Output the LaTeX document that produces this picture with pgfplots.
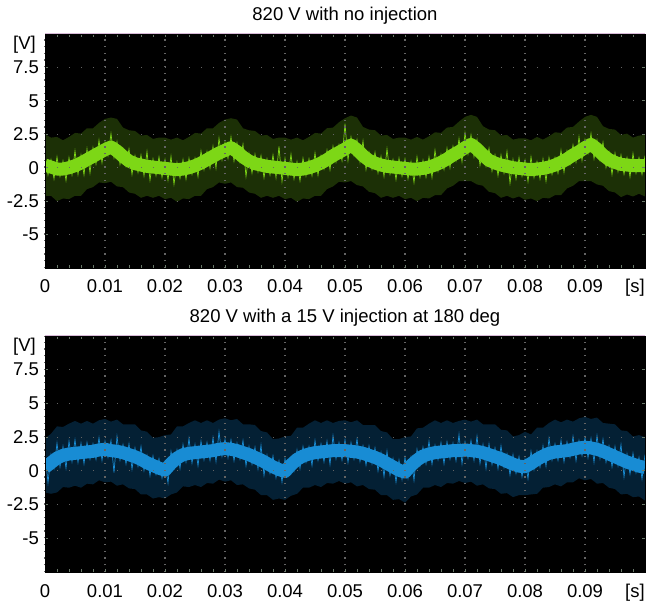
\documentclass[border=0pt]{standalone}
\usepackage{fontspec}
\setmainfont{Liberation Sans}
\usepackage{pgfplots}
\usepackage{pgfplotstable}
\pgfplotsset{compat=1.18}
\usepgfplotslibrary{fillbetween}

\definecolor{dkgreen}{RGB}{28,48,6}
\definecolor{ltgreen}{RGB}{125,215,22}
\definecolor{dkblue}{RGB}{4,32,52}
\definecolor{ltblue}{RGB}{24,140,212}
\definecolor{griddot}{RGB}{100,100,100}
\definecolor{tickc}{RGB}{105,120,105}
\definecolor{topline}{RGB}{215,185,215}
\definecolor{leftline}{RGB}{100,200,90}

% time in ms: t hi lo m  (dark envelope and centre of the trace)
\pgfplotstableread{
t hi lo m
0 2.5 -2.1 0.2
1 2.25 -2.1 0.05
2 2.3 -2.5 -0.1
3 2.05 -2.3 -0.1
4 2.3 -2.35 0.0
5 2.6 -2.1 0.15
6 2.55 -2.1 0.35
7 2.95 -1.6 0.6
8 2.95 -1.45 0.85
9 3.35 -1.1 1.1
10 3.65 -1.15 1.35
11 3.75 -1.05 1.55
12 3.65 -1.4 1.25
13 3.0 -1.45 0.85
14 2.8 -1.85 0.5
15 2.75 -1.95 0.3
16 2.4 -2.25 0.2
17 2.45 -2.1 0.1
18 2.15 -2.25 0.05
19 2.25 -2.1 0.0
20 2.25 -2.35 -0.05
21 2.1 -2.25 -0.1
22 2.25 -2.55 -0.15
23 2.05 -2.3 -0.1
24 2.3 -2.35 0.0
25 2.6 -2.1 0.15
26 2.55 -2.1 0.35
27 2.95 -1.6 0.6
28 2.95 -1.45 0.85
29 3.35 -1.1 1.1
30 3.6 -1.2 1.3
31 3.7 -1.1 1.5
32 3.6 -1.45 1.2
33 2.95 -1.5 0.8
34 2.8 -1.85 0.5
35 2.75 -1.95 0.3
36 2.4 -2.25 0.2
37 2.45 -2.1 0.1
38 2.15 -2.25 0.05
39 2.25 -2.1 0.0
40 2.25 -2.35 -0.05
41 2.1 -2.25 -0.1
42 2.25 -2.55 -0.15
43 2.05 -2.3 -0.1
44 2.3 -2.35 0.0
45 2.6 -2.1 0.15
46 2.55 -2.1 0.35
47 2.95 -1.6 0.6
48 3.0 -1.4 0.9
49 3.4 -1.05 1.15
50 3.7 -1.1 1.4
51 3.9 -1.0 1.7
52 3.75 -1.3 1.35
53 3.05 -1.4 0.9
54 2.85 -1.8 0.55
55 2.8 -1.9 0.35
56 2.4 -2.25 0.2
57 2.45 -2.1 0.1
58 2.15 -2.25 0.05
59 2.25 -2.1 0.0
60 2.25 -2.35 -0.05
61 2.1 -2.25 -0.1
62 2.3 -2.5 -0.1
63 2.1 -2.25 -0.05
64 2.35 -2.3 0.05
65 2.65 -2.05 0.2
66 2.6 -2.05 0.4
67 3.0 -1.55 0.65
68 3.05 -1.35 0.95
69 3.45 -1.0 1.2
70 3.8 -1.0 1.5
71 3.95 -1.0 1.75
72 3.8 -1.25 1.4
73 3.1 -1.35 0.95
74 2.85 -1.8 0.55
75 2.8 -1.9 0.35
76 2.4 -2.25 0.2
77 2.45 -2.1 0.1
78 2.1 -2.3 0.0
79 2.2 -2.15 -0.05
80 2.2 -2.4 -0.1
81 2.05 -2.3 -0.15
82 2.3 -2.5 -0.1
83 2.1 -2.25 -0.05
84 2.35 -2.3 0.05
85 2.65 -2.05 0.2
86 2.6 -2.05 0.4
87 3.0 -1.55 0.65
88 3.05 -1.35 0.95
89 3.45 -1.0 1.2
90 3.8 -1.0 1.5
91 3.95 -1.0 1.75
92 3.8 -1.25 1.4
93 3.1 -1.35 0.95
94 2.9 -1.75 0.6
95 2.85 -1.85 0.4
96 2.45 -2.2 0.25
97 2.55 -2.0 0.2
98 2.25 -2.15 0.15
99 2.4 -1.95 0.15
100 2.45 -2.15 0.15
}\topband

% noisy trace, every 0.5 ms
\pgfplotstableread{
t z
0 0.9
0.5 -0.53
1 0.6
1.5 -0.83
2 0.8
2.5 -0.65
3 0.5
3.5 -0.95
4 0.75
4.5 -0.53
5 1.25
5.5 -0.5
6 0.95
6.5 -0.53
7 1.4
7.5 -0.38
8 1.5
8.5 0.28
9 2.05
9.5 0.38
10 1.9
10.5 0.9
11 2.55
11.5 0.75
12 1.95
12.5 0.25
13 1.4
13.5 0.13
14 1.4
14.5 -0.5
15 0.9
15.5 -0.35
16 0.95
16.5 -0.6
17 1.2
17.5 -0.93
18 0.65
18.5 -0.58
19 0.8
19.5 -0.73
20 0.6
20.5 -0.93
21 0.85
21.5 -1.23
22 0.4
22.5 -0.78
23 0.6
23.5 -0.85
24 0.7
24.5 -0.48
25 0.7
25.5 -0.65
26 1.25
26.5 -0.13
27 1.2
27.5 -0.03
28 1.6
28.5 -0.03
29 2.2
29.5 0.6
30 1.9
30.5 0.7
31 2.3
31.5 0.5
32 1.85
32.5 0.45
33 1.75
33.5 -0.65
34 1.05
34.5 -0.4
35 1.0
35.5 -0.3
36 0.9
36.5 -0.75
37 0.65
37.5 -0.53
38 0.95
38.5 -0.73
39 1.6
39.5 -1.03
40 0.7
40.5 -0.68
41 1.0
41.5 -0.83
42 0.45
42.5 -0.98
43 0.7
43.5 -0.6
44 0.65
44.5 -0.58
45 1.1
45.5 -0.55
46 0.9
46.5 -0.08
47 1.3
47.5 -0.15
48 1.6
48.5 0.43
49 1.7
49.5 0.53
50 3.3
50.5 0.55
51 2.3
51.5 0.93
52 2.1
52.5 0.43
53 2.0
53.5 -0.13
54 1.15
54.5 -0.1
55 1.15
55.5 -0.38
56 0.85
56.5 -0.65
57 1.4
57.5 -0.48
58 0.6
58.5 -0.88
59 0.7
59.5 -0.63
60 0.65
60.5 -0.83
61 0.45
61.5 -1.1
62 0.8
62.5 -0.68
63 0.55
63.5 -0.7
64 0.8
64.5 -0.73
65 1.3
65.5 -0.25
66 1.0
66.5 -0.13
67 1.45
67.5 0.0
68 1.6
68.5 0.53
69 2.15
69.5 0.45
70 2.6
70.5 1.03
71 2.45
71.5 0.83
72 2.1
72.5 0.18
73 1.5
73.5 0.15
74 1.45
74.5 -0.25
75 0.95
75.5 -0.58
76 0.95
76.5 -0.4
77 1.2
77.5 -1.15
78 0.6
78.5 -0.83
79 0.75
79.5 -0.63
80 0.55
80.5 -1.03
81 0.8
81.5 -0.73
82 0.45
82.5 -0.83
83 0.65
83.5 -1.0
84 0.75
84.5 -0.48
85 0.75
85.5 -0.4
86 1.3
86.5 -0.33
87 1.25
87.5 0.25
88 1.7
88.5 0.43
89 2.3
89.5 0.55
90 2.1
90.5 1.08
91 2.55
91.5 0.68
92 2.05
92.5 0.58
93 1.9
93.5 0.03
94 1.15
94.5 -0.5
95 1.1
95.5 -0.28
96 0.95
96.5 -0.48
97 0.75
97.5 -0.68
98 1.05
98.5 -0.4
99 0.75
99.5 -0.5
100 0.9
}\topzig

\pgfplotstableread{
t hi lo m
0 2.4 -1.6 0.25
1 2.75 -1.7 0.6
2 3.3 -1.6 0.95
3 3.25 -1.2 1.15
4 3.5 -1.25 1.25
5 3.7 -1.1 1.3
6 3.5 -1.25 1.35
7 3.7 -0.95 1.4
8 3.5 -1.0 1.45
9 3.75 -0.7 1.55
10 3.85 -0.85 1.6
11 3.65 -0.8 1.5
12 3.8 -1.1 1.45
13 3.45 -1.0 1.35
14 3.45 -1.3 1.2
15 3.45 -1.35 1.05
16 3.0 -1.75 0.85
17 2.9 -1.75 0.6
18 2.45 -2.05 0.4
19 2.5 -1.95 0.2
20 2.65 -2.05 0.05
21 2.7 -1.75 0.55
22 3.3 -1.6 0.95
23 3.3 -1.15 1.2
24 3.55 -1.2 1.3
25 3.75 -1.05 1.35
26 3.55 -1.2 1.4
27 3.75 -0.9 1.45
28 3.55 -0.95 1.5
29 3.8 -0.65 1.6
30 3.9 -0.8 1.65
31 3.75 -0.7 1.6
32 3.85 -1.05 1.5
33 3.45 -1.0 1.35
34 3.45 -1.3 1.2
35 3.4 -1.4 1.0
36 2.95 -1.8 0.8
37 2.85 -1.8 0.55
38 2.35 -2.15 0.3
39 2.4 -2.05 0.1
40 2.55 -2.15 -0.05
41 2.6 -1.85 0.45
42 3.2 -1.7 0.85
43 3.2 -1.25 1.1
44 3.5 -1.25 1.25
45 3.75 -1.05 1.35
46 3.55 -1.2 1.4
47 3.75 -0.9 1.45
48 3.55 -0.95 1.5
49 3.7 -0.75 1.5
50 3.75 -0.95 1.5
51 3.6 -0.85 1.45
52 3.75 -1.15 1.4
53 3.4 -1.05 1.3
54 3.4 -1.35 1.15
55 3.4 -1.4 1.0
56 2.95 -1.8 0.8
57 2.85 -1.8 0.55
58 2.35 -2.15 0.3
59 2.35 -2.1 0.05
60 2.5 -2.35 -0.1
61 2.55 -1.9 0.4
62 3.15 -1.75 0.8
63 3.2 -1.25 1.1
64 3.5 -1.25 1.25
65 3.75 -1.05 1.35
66 3.55 -1.2 1.4
67 3.75 -0.9 1.45
68 3.55 -0.95 1.5
69 3.7 -0.75 1.5
70 3.8 -0.9 1.55
71 3.65 -0.8 1.5
72 3.8 -1.1 1.45
73 3.45 -1.0 1.35
74 3.45 -1.3 1.2
75 3.45 -1.35 1.05
76 3.05 -1.7 0.9
77 3.0 -1.65 0.7
78 2.55 -1.95 0.5
79 2.65 -1.8 0.35
80 2.9 -1.8 0.3
81 2.7 -1.75 0.55
82 3.2 -1.7 0.85
83 3.2 -1.25 1.1
84 3.55 -1.2 1.3
85 3.8 -1.0 1.4
86 3.6 -1.15 1.45
87 3.8 -0.85 1.5
88 3.65 -0.85 1.6
89 3.9 -0.55 1.7
90 4.0 -0.7 1.75
91 3.85 -0.6 1.7
92 3.95 -0.95 1.6
93 3.55 -0.9 1.45
94 3.5 -1.25 1.25
95 3.45 -1.35 1.05
96 3.0 -1.75 0.85
97 2.95 -1.7 0.65
98 2.55 -1.95 0.5
99 2.65 -1.9 0.35
100 2.5 -2.2 0.25
}\botband

\pgfplotstableread{
t z
0 1.35
0.5 -0.88
1 1.2
1.5 0.18
2 2.05
2.5 0.3
3 1.8
3.5 0.2
4 2.2
4.5 0.68
5 2.3
5.5 0.63
6 2.05
6.5 0.53
7 2.1
7.5 0.88
8 2.0
8.5 0.85
9 2.45
9.5 0.78
10 2.2
10.5 1.0
11 2.25
11.5 -0.13
12 2.55
12.5 0.8
13 1.95
13.5 0.53
14 2.0
14.5 0.13
15 1.7
15.5 0.35
16 1.8
16.5 0.03
17 1.15
17.5 -0.35
18 1.1
18.5 -0.25
19 0.9
19.5 -0.53
20 0.6
20.5 -0.9
21 1.45
21.5 0.2
22 1.55
22.5 0.18
23 1.95
23.5 0.65
24 2.4
24.5 0.58
25 1.95
25.5 0.38
26 2.2
26.5 0.83
27 2.1
27.5 0.78
28 2.45
28.5 0.7
29 2.9
29.5 1.08
30 2.35
30.5 0.98
31 2.3
31.5 0.75
32 2.05
32.5 0.88
33 2.25
33.5 0.38
34 1.8
34.5 0.5
35 1.75
35.5 0.15
36 1.9
36.5 -0.33
37 1.15
37.5 -0.18
38 1.1
38.5 -0.5
39 0.75
39.5 -0.83
40 0.9
40.5 -0.35
41 1.0
41.5 0.0
42 1.55
42.5 0.18
43 1.8
43.5 0.63
44 1.8
44.5 0.4
45 2.25
45.5 0.78
46 2.0
46.5 0.68
47 2.2
47.5 0.48
48 2.6
48.5 0.9
49 2.1
49.5 0.8
50 2.3
50.5 0.63
51 2.1
51.5 0.88
52 2.35
52.5 0.7
53 1.85
53.5 0.43
54 1.85
54.5 0.53
55 1.7
55.5 0.0
56 1.35
56.5 -0.43
57 1.45
57.5 -0.33
58 0.9
58.5 -0.83
59 0.8
59.5 -0.63
60 1.0
60.5 -0.55
61 1.0
61.5 -0.7
62 1.6
62.5 0.4
63 1.75
63.5 0.53
64 2.2
64.5 0.5
65 1.9
65.5 0.83
66 2.1
66.5 0.53
67 2.15
67.5 0.88
68 2.05
68.5 0.75
69 2.7
69.5 0.53
70 2.15
70.5 0.93
71 2.25
71.5 0.78
72 2.55
72.5 0.55
73 1.95
73.5 0.18
74 2.0
74.5 0.48
75 1.7
75.5 0.18
76 1.85
76.5 0.25
77 1.25
77.5 -0.3
78 1.2
78.5 -0.18
79 1.05
79.5 -0.43
80 0.85
80.5 -0.58
81 1.45
81.5 0.1
82 1.45
82.5 0.28
83 1.85
83.5 0.35
84 2.4
84.5 0.8
85 2.0
85.5 0.78
86 2.25
86.5 0.68
87 2.15
87.5 1.0
88 2.55
88.5 0.75
89 2.25
89.5 1.13
90 2.45
90.5 0.98
91 2.4
91.5 0.65
92 2.6
92.5 0.93
93 2.35
93.5 0.65
94 1.85
94.5 0.3
95 1.8
95.5 0.4
96 1.95
96.5 -0.45
97 1.25
97.5 -0.23
98 1.3
98.5 -0.13
99 1.0
99.5 -0.6
100 1.2
}\botzig

\pgfplotsset{
  scope/.style={
    scale only axis, width=600pt,
    xmin=0, xmax=100, ymin=-7.5, ymax=10,
    axis background/.style={fill=black},
    axis on top,
    axis line style={draw=black},
    xtick={0,10,...,90},
    xticklabels={0,0.01,0.02,0.03,0.04,0.05,0.06,0.07,0.08,0.09},
    minor xtick={0,2,...,100},
    ytick={-5,-2.5,0,2.5,5,7.5},
    yticklabels={-5,-2.5,0,2.5,5,7.5},
    grid=major,
    major y grid style={draw=griddot, line width=1.2pt, dash pattern=on 1.2pt off 10.8pt},
    tick style={draw=tickc, line width=0.8pt},
    major tick length=3pt, minor tick length=3pt,
    xticklabel style={anchor=base, yshift=-25pt, inner sep=0pt},
    yticklabel style={anchor=east, xshift=-6pt, inner sep=0pt},
    title style={at={(0.5,1)}, anchor=base, yshift=7pt, inner sep=0pt},
  }
}

\begin{document}
\fontsize{18.5}{22}\selectfont
\begin{tikzpicture}
\begin{axis}[scope, name=top, at={(0pt,0pt)}, anchor=south west, height=234pt,
    major x grid style={draw=griddot, line width=1.2pt, dash pattern=on 1.2pt off 5.49pt},
    title={820 V with no injection}]
\addplot[draw=none, name path=tu] table[x=t, y=hi] {\topband};
\addplot[draw=none, name path=tl] table[x=t, y=lo] {\topband};
\addplot[fill=dkgreen, draw=none] fill between[of=tu and tl];
\addplot[ltgreen, line width=13pt, line join=round] table[x=t, y=m] {\topband};
\addplot[ltgreen, line width=0.7pt] table[x=t, y=z] {\topzig};
\end{axis}
\draw[topline, line width=1pt] (top.north west) -- (top.north east);
\draw[leftline, line width=0.7pt] (top.south west) -- (top.north west);
\node[anchor=north east, inner sep=0pt] at ([xshift=-9pt, yshift=-2pt]top.north west) {[V]};
\node[anchor=base, inner sep=0pt] at ([xshift=-10pt, yshift=-25pt]top.south east) {[s]};

\begin{axis}[scope, name=bot, at={(0pt,-304pt)}, anchor=south west, height=236pt,
    major x grid style={draw=griddot, line width=1.2pt, dash pattern=on 1.2pt off 5.54pt},
    title={820 V with a 15 V injection at 180 deg}]
\addplot[draw=none, name path=bu] table[x=t, y=hi] {\botband};
\addplot[draw=none, name path=bl] table[x=t, y=lo] {\botband};
\addplot[fill=dkblue, draw=none] fill between[of=bu and bl];
\addplot[ltblue, line width=13pt, line join=round] table[x=t, y=m] {\botband};
\addplot[ltblue, line width=0.7pt] table[x=t, y=z] {\botzig};
\end{axis}
\draw[topline, line width=1pt] (bot.north west) -- (bot.north east);
\draw[leftline, line width=0.7pt] (bot.south west) -- (bot.north west);
\node[anchor=north east, inner sep=0pt] at ([xshift=-9pt, yshift=-2pt]bot.north west) {[V]};
\node[anchor=base, inner sep=0pt] at ([xshift=-10pt, yshift=-25pt]bot.south east) {[s]};

\pgfresetboundingbox
\path[use as bounding box] (-45pt,-333pt) rectangle (602pt,268pt);
\end{tikzpicture}
\end{document}
